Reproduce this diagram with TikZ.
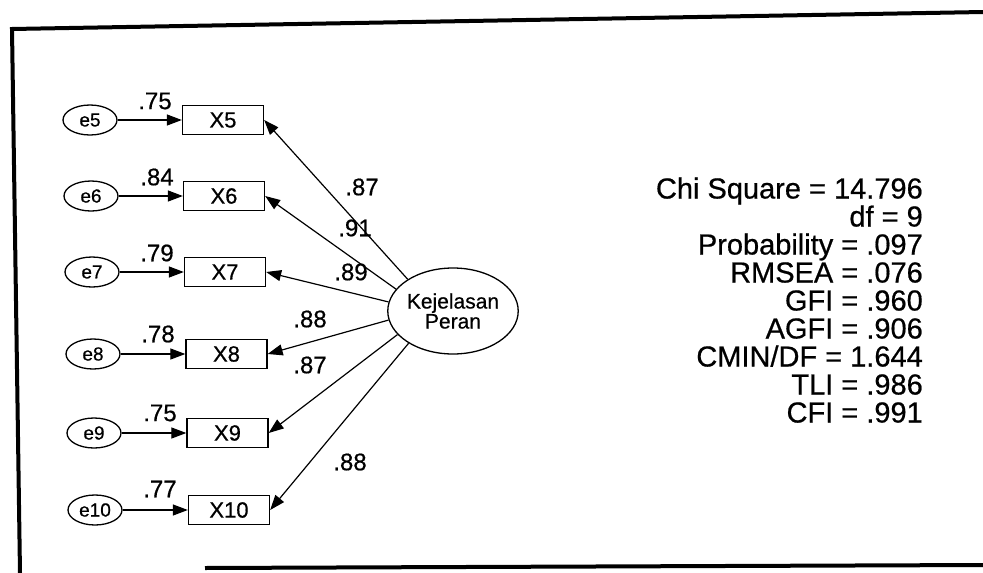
\documentclass[tikz,border=0pt]{standalone}
\usepackage{fontspec}
\setmainfont{Liberation Sans}[FakeBold=0.6]
\usetikzlibrary{arrows.meta,shapes.geometric}
\begin{document}
\begin{tikzpicture}[x=1pt,y=-1pt,
  err/.style={draw,ellipse,minimum width=54pt,minimum height=30pt,inner sep=0pt,line width=1.3pt,font=\fontsize{19}{19}\selectfont},
  obs/.style={draw,rectangle,minimum width=81pt,minimum height=29pt,inner sep=0pt,line width=1.3pt,font=\fontsize{22}{22}\selectfont},
  lat/.style={draw,ellipse,minimum width=120pt,minimum height=86pt,inner sep=0pt,line width=1.3pt,font=\fontsize{21}{20}\selectfont,align=center},
  lbl/.style={font=\fontsize{24}{24}\selectfont,inner sep=0pt},
  stat/.style={font=\fontsize{29}{29}\selectfont,inner sep=0pt,anchor=base east},
  arr/.style={-{Triangle[length=15pt,width=11pt]},line width=1.2pt},
  frameline/.style={line width=4pt}
]
\useasboundingbox (0,0) rectangle (983,573);
% frame
\coordinate (tr) at (983,12);
\coordinate (tl) at (12,29);
\coordinate (bl) at (20,573);
\coordinate (bm) at (205,568);
\coordinate (br) at (983,565);
\draw[frameline] (tr) -- (tl) -- (bl);
\draw[frameline] (bm) -- (br);
% error terms
\node[err] (e5)  at (90,120) {e5};
\node[err] (e6)  at (91,196) {e6};
\node[err] (e7)  at (92,272) {e7};
\node[err] (e8)  at (93,354) {e8};
\node[err] (e9)  at (94,433) {e9};
\node[err] (e10) at (95,510) {e10};
% observed
\node[obs] (X5)  at (223,120) {X5};
\node[obs] (X6)  at (224,196) {X6};
\node[obs] (X7)  at (225,272) {X7};
\node[obs] (X8)  at (226.5,354) {X8};
\node[obs] (X9)  at (227.5,433) {X9};
\node[obs] (X10) at (229,510) {X10};
% latent
\node[lat] (K) at (453,311) {Kejelasan\\Peran};
% error arrows
\foreach \i in {5,...,10} \draw[arr] (e\i) -- (X\i);
\node[lbl] (l5)  at (155,101) {.75};
\node[lbl] (l6)  at (157,177) {.84};
\node[lbl] (l7)  at (157,253) {.79};
\node[lbl] (l8)  at (158,334) {.78};
\node[lbl] (l9)  at (160,413) {.75};
\node[lbl] (l10) at (160,489) {.77};
% loadings
\draw[arr] (K.145.7) -- (X5.east);
\draw[arr] (K.159.2) -- (X6.east);
\draw[arr] (K.172.3) -- (X7.east);
\draw[arr] (K.188.5) -- (X8.east);
\draw[arr] (K.203.7) -- (X9.east);
\draw[arr] (K.216) -- (X10.east);
\node[lbl] (k5)  at (362,187) {.87};
\node[lbl] (k6)  at (355,228) {.91};
\node[lbl] (k7)  at (351,272) {.89};
\node[lbl] (k8)  at (310,319) {.88};
\node[lbl] (k9)  at (310,365) {.87};
\node[lbl] (k10) at (350,462) {.88};
% fit statistics
\node[stat] (s1) at (923,198.5) {Chi Square = 14.796};
\node[stat] (s2) at (923,226.5) {df = 9};
\node[stat] (s3) at (923,254.5) {Probability = .097};
\node[stat] (s4) at (923,282.5) {RMSEA = .076};
\node[stat] (s5) at (923,310.5) {GFI = .960};
\node[stat] (s6) at (923,338.5) {AGFI = .906};
\node[stat] (s7) at (923,366.5) {CMIN/DF = 1.644};
\node[stat] (s8) at (923,394.5) {TLI = .986};
\node[stat] (s9) at (923,422.5) {CFI = .991};
\end{tikzpicture}
\end{document}
